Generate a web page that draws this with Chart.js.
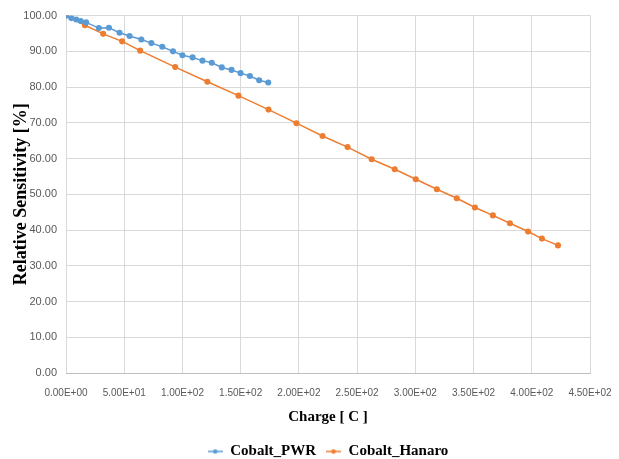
<!DOCTYPE html>
<html>
<head>
<meta charset="utf-8">
<script src="https://cdn.jsdelivr.net/npm/chart.js@4"></script>
<style>
  html, body { margin: 0; padding: 0; background: #fff; }
  #wrap { width: 619px; height: 459px; }
</style>
</head>
<body>
<div id="wrap"><canvas id="chart" width="619" height="459"></canvas></div>
<script>
// ---------- Data ----------
const seriesNames = ['Cobalt_PWR', 'Cobalt_Hanaro'];
const seriesColors = ['#5b9bd5', '#ed7d31'];

const pwrCharge = [0, 4.5, 8.7, 12.7, 17.3, 28.2, 36.9, 46.0, 54.6, 64.7, 73.3, 82.7, 91.9, 100.0,
    108.7, 117.2, 125.2, 133.8, 142.2, 149.9, 157.9, 165.9, 173.7];
const pwrSens = [100, 99.3, 98.9, 98.5, 98.1, 96.5, 96.6, 95.2, 94.3, 93.3, 92.3, 91.3, 90.0, 88.9,
    88.3, 87.4, 86.8, 85.5, 84.8, 83.9, 83.1, 81.9, 81.3];

const hanaroCharge = [0, 16.3, 31.9, 48.2, 63.7, 93.8, 121.4, 148.1, 173.9, 197.9, 220.3, 241.8,
    262.5, 282.3, 300.4, 318.5, 335.6, 351.2, 366.6, 381.2, 396.8, 408.7, 422.5];
const hanaroSens = [100, 97.3, 94.9, 92.8, 90.2, 85.6, 81.5, 77.6, 73.7, 69.9, 66.3, 63.2,
    59.8, 57.0, 54.2, 51.4, 48.9, 46.3, 44.1, 41.9, 39.6, 37.6, 35.7];

const xTicks = [0, 50, 100, 150, 200, 250, 300, 350, 400, 450];
const yTicks = [0, 10, 20, 30, 40, 50, 60, 70, 80, 90, 100];

// ---------- Helpers ----------
function toPoints(xs, ys) {
    return xs.map((x, i) => ({ x, y: ys[i] }));
}

// little "line + dot" swatch like the Excel legend
function legendSwatch(color) {
    const c = document.createElement('canvas');
    c.width = 15; c.height = 8;
    const g = c.getContext('2d');
    g.strokeStyle = color;
    g.lineWidth = 1.5;
    g.beginPath(); g.moveTo(0, 4); g.lineTo(15, 4); g.stroke();
    g.fillStyle = color;
    g.beginPath(); g.arc(7.5, 4, 2.3, 0, Math.PI * 2); g.fill();
    return c;
}

const tickFont = { family: '"Liberation Sans Narrow", "Liberation Sans", sans-serif', size: 10 };
const serifBold = { family: '"Liberation Serif", "Times New Roman", serif', weight: 'bold' };

new Chart(document.getElementById('chart').getContext('2d'), {
    type: 'scatter',
    data: {
        datasets: [
            {
                label: seriesNames[0],
                data: toPoints(pwrCharge, pwrSens),
                borderColor: seriesColors[0],
                backgroundColor: seriesColors[0],
                showLine: true,
                borderWidth: 1.5,
                pointRadius: 2.3,
                pointHoverRadius: 3,
            },
            {
                label: seriesNames[1],
                data: toPoints(hanaroCharge, hanaroSens),
                borderColor: seriesColors[1],
                backgroundColor: seriesColors[1],
                showLine: true,
                borderWidth: 1.5,
                pointRadius: 2.3,
                pointHoverRadius: 3,
            },
        ],
    },
    options: {
        responsive: false,
        animation: false,
        layout: { padding: { left: 5, right: 29, top: 11, bottom: -10 } },
        scales: {
            x: {
                type: 'linear',
                min: 0,
                max: 450,
                afterBuildTicks: (axis) => { axis.ticks = xTicks.map(v => ({ value: v })); },
                // the last label may run past the plot edge, as in the original
                afterFit: (axis) => { axis.paddingRight = 0; },
                ticks: {
                    font: tickFont,
                    color: '#595959',
                    padding: 14,
                    maxRotation: 0,
                    autoSkip: false,
                    callback: (v) => Number(v).toExponential(2).toUpperCase().replace(/E([+-])(\d)$/, 'E$10$2'),
                },
                grid: { color: '#d9d9d9', drawTicks: false },
                border: { color: '#bfbfbf' },
                title: {
                    display: true,
                    text: 'Charge [ C ]',
                    font: { ...serifBold, size: 15 },
                    color: '#000',
                    padding: { top: -5, bottom: 8 },
                },
            },
            y: {
                type: 'linear',
                min: 0,
                max: 100,
                afterBuildTicks: (axis) => { axis.ticks = yTicks.map(v => ({ value: v })); },
                afterFit: (axis) => { axis.width = 61; },
                ticks: {
                    font: { ...tickFont, size: 11 },
                    color: '#595959',
                    padding: 9,
                    callback: (v) => Number(v).toFixed(2),
                },
                grid: { color: '#d9d9d9', drawTicks: false },
                border: { display: false },
                title: {
                    display: true,
                    text: 'Relative Sensitivity [%]',
                    font: { ...serifBold, size: 18 },
                    color: '#000',
                    padding: { top: 6, bottom: 2 },
                },
            },
        },
        plugins: {
            legend: {
                position: 'bottom',
                fullSize: false,
                labels: {
                    usePointStyle: true,
                    pointStyleWidth: 15,
                    padding: 10,
                    color: '#000',
                    font: { ...serifBold, size: 15 },
                    generateLabels: (chart) => chart.data.datasets.map((ds, i) => ({
                        text: ds.label,
                        fillStyle: ds.borderColor,
                        strokeStyle: ds.borderColor,
                        pointStyle: legendSwatch(ds.borderColor),
                        datasetIndex: i,
                        hidden: false,
                        fontColor: '#000',
                    })),
                },
            },
            tooltip: { enabled: false },
        },
    },
});
</script>
</body>
</html>
